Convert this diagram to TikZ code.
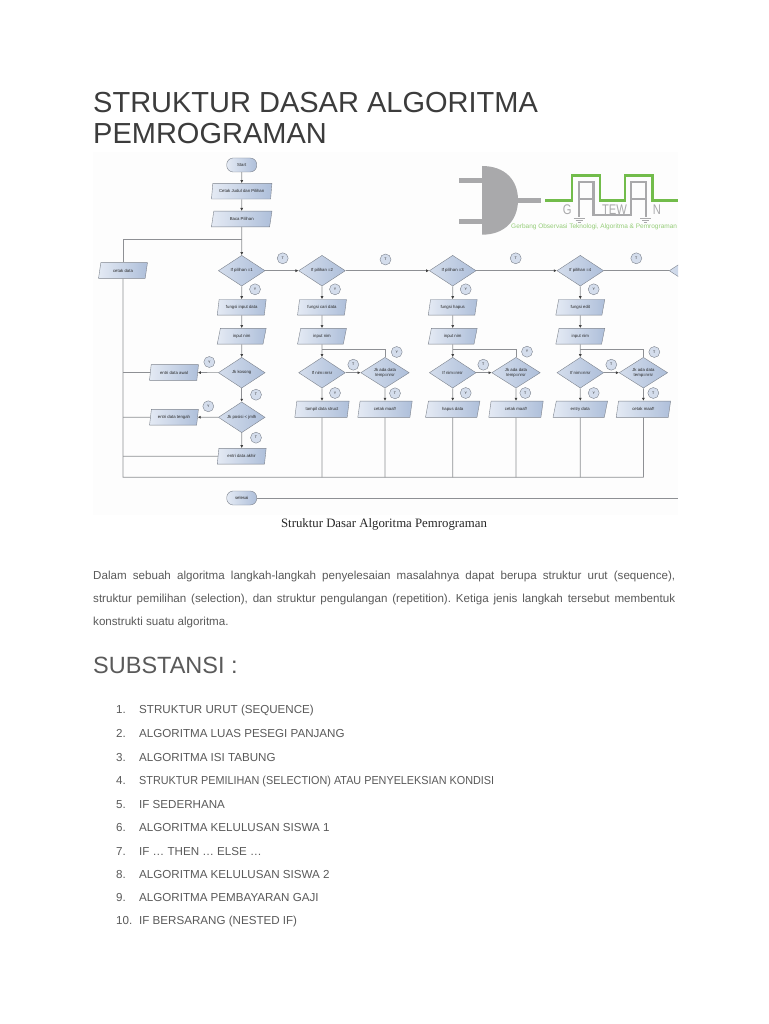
\documentclass[tikz,border=0pt]{standalone}
\usepackage{fontspec}
\setmainfont{Liberation Sans}
\newfontfamily\serifcap{Liberation Serif}
\usetikzlibrary{shapes.geometric,arrows.meta,calc}
\definecolor{edge}{HTML}{7C828C}
\definecolor{wire}{HTML}{8E9094}
\definecolor{shL}{HTML}{E4EAF4}
\definecolor{shR}{HTML}{AEBFDA}
\definecolor{gatec}{HTML}{A9A9AB}
\definecolor{wave}{HTML}{72BC4B}
\definecolor{titlec}{HTML}{3C3C3C}
\definecolor{bodyc}{HTML}{5A5A5A}
\tikzset{
 ftext/.style={font=\fontsize{4.3}{5}\selectfont,text=black!85},
 terminal/.style={ftext,draw=edge,rounded corners=6.5pt,minimum width=30pt,minimum height=14pt,inner sep=0pt,left color=shL,right color=shR},
 para/.style={ftext,draw=edge,trapezium,trapezium left angle=72,trapezium right angle=108,trapezium stretches=true,minimum width=49pt,minimum height=15.7pt,inner sep=0pt,left color=shL,right color=shR},
 parawide/.style={para,minimum width=54.5pt,minimum height=16.3pt},
 cond/.style={ftext,draw=edge,diamond,aspect=1.5,minimum width=46.7pt,minimum height=30.7pt,inner sep=0pt,left color=shL!70!shR,right color=shR},
 condwide/.style={cond,minimum width=48.5pt,align=center},
 tagmark/.style={circle,draw=edge,fill=shL!70!shR,minimum size=11pt,inner sep=0pt,font=\fontsize{3.6}{4}\selectfont,text=black!85},
 flow/.style={wire,line width=.7pt,-{Latex[length=3pt,width=3pt,color=black!75]}},
 plain/.style={wire,line width=.7pt},
 listtext/.style={anchor=base west,font=\fontsize{11.6}{13}\selectfont,text=bodyc,inner sep=0pt},
 bodyline/.style={anchor=base west,font=\fontsize{11.6}{13}\selectfont,text=bodyc,inner sep=0pt},
 logoletter/.style={font=\fontsize{14}{14}\selectfont,text=gatec,inner sep=0pt,xscale=.8,transform shape},
}
\frenchspacing
\begin{document}
\begin{tikzpicture}[x=1pt,y=-1pt]
\useasboundingbox (0,0) rectangle (768,1024);
\fill[white] (0,0) rectangle (768,1024);
\fill[black!.6] (93,152) rectangle (678,515);
% headings
\node[anchor=base west,inner sep=0pt,font=\fontsize{29}{32}\selectfont,text=titlec] (title1) at (93,112.3) {STRUKTUR DASAR ALGORITMA};
\node[anchor=base west,inner sep=0pt,font=\fontsize{29}{32}\selectfont,text=titlec] (title2) at (93,144) {PEMROGRAMAN};
% logo
\fill[gatec] (482,166) -- (482,234.7) .. controls (505,234.7) and (518,220) .. (518,200) .. controls (518,180) and (505,166) .. (482,166) -- cycle;
\fill[gatec] (459.3,178.3) rectangle (482,183.3);
\fill[gatec] (459.3,219) rectangle (482,224);
\fill[gatec] (518,197.7) rectangle (540.7,202.7);
\draw[gatec,line width=2.4pt] (579,217) -- (579,182.3) -- (593.3,182.3) -- (593.3,215) -- (631,215) -- (631,182.3) -- (645.7,182.3) -- (645.7,217);
\draw[gatec,line width=2pt] (579,199.3) -- (593.3,199.3);
\draw[gatec,line width=2pt] (631,199.3) -- (645.7,199.3);
\draw[gatec,line width=.9pt] (573.5,218) -- (584.5,218) (575.5,220.2) -- (582.5,220.2) (577.5,222.4) -- (580.5,222.4);
\draw[gatec,line width=.9pt] (640.2,218) -- (651.2,218) (642.2,220.2) -- (649.2,220.2) (644.2,222.4) -- (647.2,222.4);
\draw[wave,line width=2.4pt] (545,200.7) -- (571.7,200.7) -- (571.7,175.7) -- (600,175.7) -- (600,200.7) -- (625,200.7) -- (625,175.7) -- (652.3,175.7) -- (652.3,200.7) -- (678.3,200.7);
\node[logoletter] (lg) at (567.3,209.7) {G};
\node[logoletter] (lt) at (614.5,209.7) {TEW};
\node[logoletter] (ln) at (657,209.7) {N};
\begin{scope}
\clip (500,220) rectangle (679,233);
\node[anchor=west,font=\fontsize{6.5}{7}\selectfont,text=wave!75,inner sep=0pt] (tag) at (511,226.7) {Gerbang Observasi Teknologi, Algoritma \& Pemrograman};
\end{scope}
% column 1
\node[terminal] (start) at (241.7,165) {Start};
\node[para,minimum width=60.6pt] (judul) at (241.7,191.2) {Cetak Judul dan Pilihan};
\node[para,minimum width=60.6pt] (baca) at (241.7,219) {Baca Pilihan};
\node[para] (cd) at (123,270.5) {cetak data};
\node[cond] (d1) at (241.7,270.7) {If pilihan =1};
\node[para] (f1) at (241.7,307.3) {fungsi input data};
\node[para] (i1) at (241.7,336.2) {input nim};
\node[cond] (k1) at (241.7,372.7) {Jk kosong};
\node[para] (ea) at (174,372.5) {entri data awal};
\node[cond] (k2) at (241.7,417.3) {Jk posisi < jmlh};
\node[para] (et) at (174,417.2) {entri data tengah};
\node[para] (ez) at (241.7,456.2) {entri data akhir};
\node[terminal] (end) at (241.7,498) {selesai};
% column 2
\node[cond] (d2) at (322,270.7) {If pilihan =2};
\node[para] (f2) at (322,307.3) {fungsi cari data};
\node[para] (i2) at (322,336.2) {input nim};
\node[cond] (s2) at (322,372.7) {If nim=nrsr};
\node[condwide] (a2) at (385,372.7) {Jk ada data\\temp=nrsr};
\node[parawide] (r2) at (322,409.2) {tampil data struct};
\node[parawide] (m2) at (385,409.2) {cetak maaf!};
% column 3
\node[cond] (d3) at (452.7,270.7) {If pilihan =3};
\node[para] (f3) at (452.7,307.3) {fungsi hapus};
\node[para] (i3) at (452.7,336.2) {input nim};
\node[cond] (s3) at (452.7,372.7) {If nim=nrsr};
\node[condwide] (a3) at (516,372.7) {Jk ada data\\temp=nrsr};
\node[parawide] (r3) at (452.7,409.2) {hapus data};
\node[parawide] (m3) at (516,409.2) {cetak maaf!};
% column 4
\node[cond] (d4) at (580.3,270.7) {If pilihan =4};
\node[para] (f4) at (580.3,307.3) {fungsi edit};
\node[para] (i4) at (580.3,336.2) {input nim};
\node[cond] (s4) at (580.3,372.7) {If nim=nrsr};
\node[condwide] (a4) at (643.4,372.7) {Jk ada data\\temp=nrsr};
\node[parawide] (r4) at (580.3,409.2) {entry data};
\node[parawide] (m4) at (643.4,409.2) {cetak maaf!};
% clipped fifth decision
\begin{scope}
\clip (600,240) rectangle (678,300);
\node[cond] (d5) at (692.6,270.7) {};
\end{scope}
% helper coordinates
\coordinate (j0) at (baca.south |- 0,239);
\coordinate (bl) at (cd |- 0,477.3);
\coordinate (br) at (m4 |- 0,477.3);
\coordinate (fin) at (678,498);
\coordinate (j2) at (i2 |- 0,349);
\coordinate (j3) at (i3 |- 0,349);
\coordinate (j4) at (i4 |- 0,349);
% connectors
\draw[flow] (start) -- (judul);
\draw[flow] (judul) -- (baca);
\draw[flow] (baca) -- (d1);
\draw[plain] (j0) -| (cd);
\draw[plain] (cd) -- (bl) -- (br);
\draw[flow] (d1) -- (d2);
\draw[flow] (d2) -- (d3);
\draw[flow] (d3) -- (d4);
\draw[plain] (d4) -- (d5);
\draw[flow] (d1) -- (f1);
\draw[flow] (f1) -- (i1);
\draw[flow] (i1) -- (k1);
\draw[flow] (k1) -- (ea);
\draw[flow] (k1) -- (k2);
\draw[flow] (k2) -- (et);
\draw[flow] (k2) -- (ez);
\draw[plain] (ea) -- (ea -| cd);
\draw[plain] (et) -- (et -| cd);
\draw[plain] (ez) -- (ez -| cd);
\draw[plain] (end) -- (fin);
\foreach \n in {2,3,4}{
 \draw[flow] (d\n) -- (f\n);
 \draw[flow] (f\n) -- (i\n);
 \draw[flow] (i\n) -- (s\n);
 \draw[plain] (j\n) -| (a\n);
 \draw[flow] (s\n) -- (a\n);
 \draw[flow] (s\n) -- (r\n);
 \draw[flow] (a\n) -- (m\n);
 \draw[plain] (r\n) -- (r\n |- br);
 \draw[plain] (m\n) -- (m\n |- br);
}
% Y / T marks
\node[tagmark] (c1) at (282.7,258.3) {T};
\node[tagmark] (c2) at (255,289.3) {Y};
\node[tagmark] (c3) at (209.3,362) {Y};
\node[tagmark] (c4) at (256,394.7) {T};
\node[tagmark] (c5) at (208.3,406.3) {Y};
\node[tagmark] (c6) at (256,437.7) {T};
\node[tagmark] (c7) at (385.5,259.5) {T};
\node[tagmark] (c8) at (335,289.3) {Y};
\node[tagmark] (c9) at (353.3,364.7) {T};
\node[tagmark] (c10) at (335,393) {Y};
\node[tagmark] (c11) at (395,393.3) {T};
\node[tagmark] (c12) at (396.7,352) {Y};
\node[tagmark] (c13) at (515.7,258.3) {T};
\node[tagmark] (c14) at (465.7,289.3) {Y};
\node[tagmark] (c15) at (483.3,364.7) {T};
\node[tagmark] (c16) at (465.7,393) {Y};
\node[tagmark] (c17) at (525.3,393) {T};
\node[tagmark] (c18) at (527,351.7) {Y};
\node[tagmark] (c19) at (636.3,258.3) {T};
\node[tagmark] (c20) at (593.7,289.3) {Y};
\node[tagmark] (c21) at (611.3,364.7) {T};
\node[tagmark] (c22) at (593.7,393) {Y};
\node[tagmark] (c23) at (653.3,393) {T};
\node[tagmark] (c24) at (654.3,352) {T};
% caption
\node[font=\serifcap\fontsize{12.8}{14}\selectfont,text=black!85,inner sep=0pt] (cap) at (384,524.5) {Struktur Dasar Algoritma Pemrograman};
% body
\node[bodyline] (b1) at (93,579) {\makebox[582pt][s]{Dalam sebuah algoritma langkah-langkah penyelesaian masalahnya dapat berupa struktur urut (sequence),}};
\node[bodyline] (b2) at (93,602) {\makebox[582pt][s]{struktur pemilihan (selection), dan struktur pengulangan (repetition). Ketiga jenis langkah tersebut membentuk}};
\node[bodyline] (b3) at (93,625) {konstrukti suatu algoritma.};
\node[anchor=base west,inner sep=0pt,font=\fontsize{23.5}{26}\selectfont,text=bodyc] (sub) at (93,673.5) {SUBSTANSI :};
% list
\foreach \y/\num/\txt [count=\i] in {
 713/1./STRUKTUR URUT (SEQUENCE),
 737/2./ALGORITMA LUAS PESEGI PANJANG,
 761/3./ALGORITMA ISI TABUNG,
 784/4./{\scalebox{.933}[1]{STRUKTUR PEMILIHAN (SELECTION) ATAU PENYELEKSIAN KONDISI}},
 808/5./IF SEDERHANA,
 831/6./ALGORITMA KELULUSAN SISWA 1,
 855/7./IF … THEN … ELSE …,
 878/8./ALGORITMA KELULUSAN SISWA 2,
 901/9./ALGORITMA PEMBAYARAN GAJI,
 924/10./IF BERSARANG (NESTED IF)}{
 \node[listtext] (num\i) at (116,\y) {\num};
 \node[listtext] (item\i) at (139,\y) {\txt};
}
\end{tikzpicture}
\end{document}
